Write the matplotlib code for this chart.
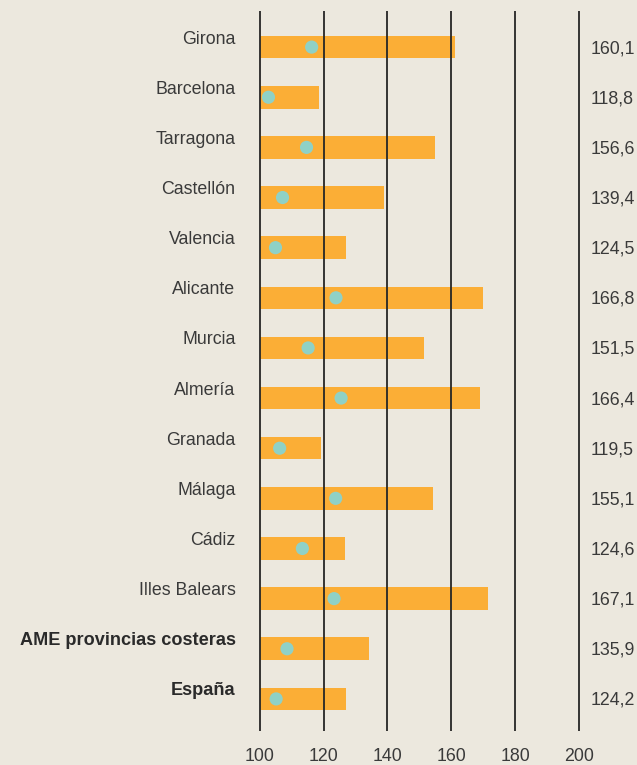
import numpy as np
import matplotlib as mpl
import matplotlib.pyplot as plt

mpl.rcParams['font.family'] = 'Liberation Sans'

# data
provincias = ['Girona', 'Barcelona', 'Tarragona', 'Castellón', 'Valencia',
              'Alicante', 'Murcia', 'Almería', 'Granada', 'Málaga', 'Cádiz',
              'Illes Balears', 'AME provincias costeras', 'España']
# bar lengths as drawn in the picture
barra = [161.0, 118.5, 154.8, 138.8, 127.0, 169.8, 151.3, 168.8, 119.2,
         154.2, 126.7, 171.3, 134.2, 127.0]
# printed values on the right
etiqueta = ['160,1', '118,8', '156,6', '139,4', '124,5', '166,8', '151,5',
            '166,4', '119,5', '155,1', '124,6', '167,1', '135,9', '124,2']
punto = [116.3, 102.8, 114.7, 107.2, 105.0, 123.9, 115.2, 125.5, 106.3,
         123.8, 113.4, 123.3, 108.6, 105.2]
negrita = ['AME provincias costeras', 'España']
xticks = [100, 120, 140, 160, 180, 200]

bg = '#ece8de'
naranja = '#fbae36'
verde = '#8fd1c6'
texto = '#3a3a3a'

fig = plt.figure(figsize=(6.37, 7.65), dpi=100, facecolor=bg)
ax = fig.add_axes([259.5/637, 34/765, 320/637, 720/765])
ax.set_facecolor(bg)

y = np.arange(len(provincias))
base = xticks[0]
ax.barh(y, np.array(barra) - base, left=base, height=0.45, color=naranja,
        zorder=1)
ax.vlines(xticks, -0.72, 13.64, color='#262626', lw=1.3, zorder=2,
          clip_on=False)
ax.scatter(punto, y, s=90, color=verde, zorder=3, edgecolors='none')

for i, (nom, et) in enumerate(zip(provincias, etiqueta)):
    if nom in negrita:
        ax.text(92.5, i - 0.16, nom, ha='right', va='center', fontsize=13.1,
                fontweight='bold', color='#2a2a2a', clip_on=False)
    else:
        ax.text(92.5, i - 0.16, nom, ha='right', va='center', fontsize=12.8,
                color=texto, clip_on=False)
    ax.text(203.4, i + 0.03, et, ha='left', va='center', fontsize=12.8,
            color=texto, clip_on=False)

ax.set_xlim(100, 200)
ax.set_ylim(13.64, -0.72)
ax.set_xticks(xticks)
ax.set_xticklabels([str(t) for t in xticks], fontsize=12.8, color=texto)
ax.tick_params(axis='x', length=0, pad=12)
ax.set_yticks([])
for s in ax.spines.values():
    s.set_visible(False)

fig.savefig('out.png', dpi=100, facecolor=bg)
